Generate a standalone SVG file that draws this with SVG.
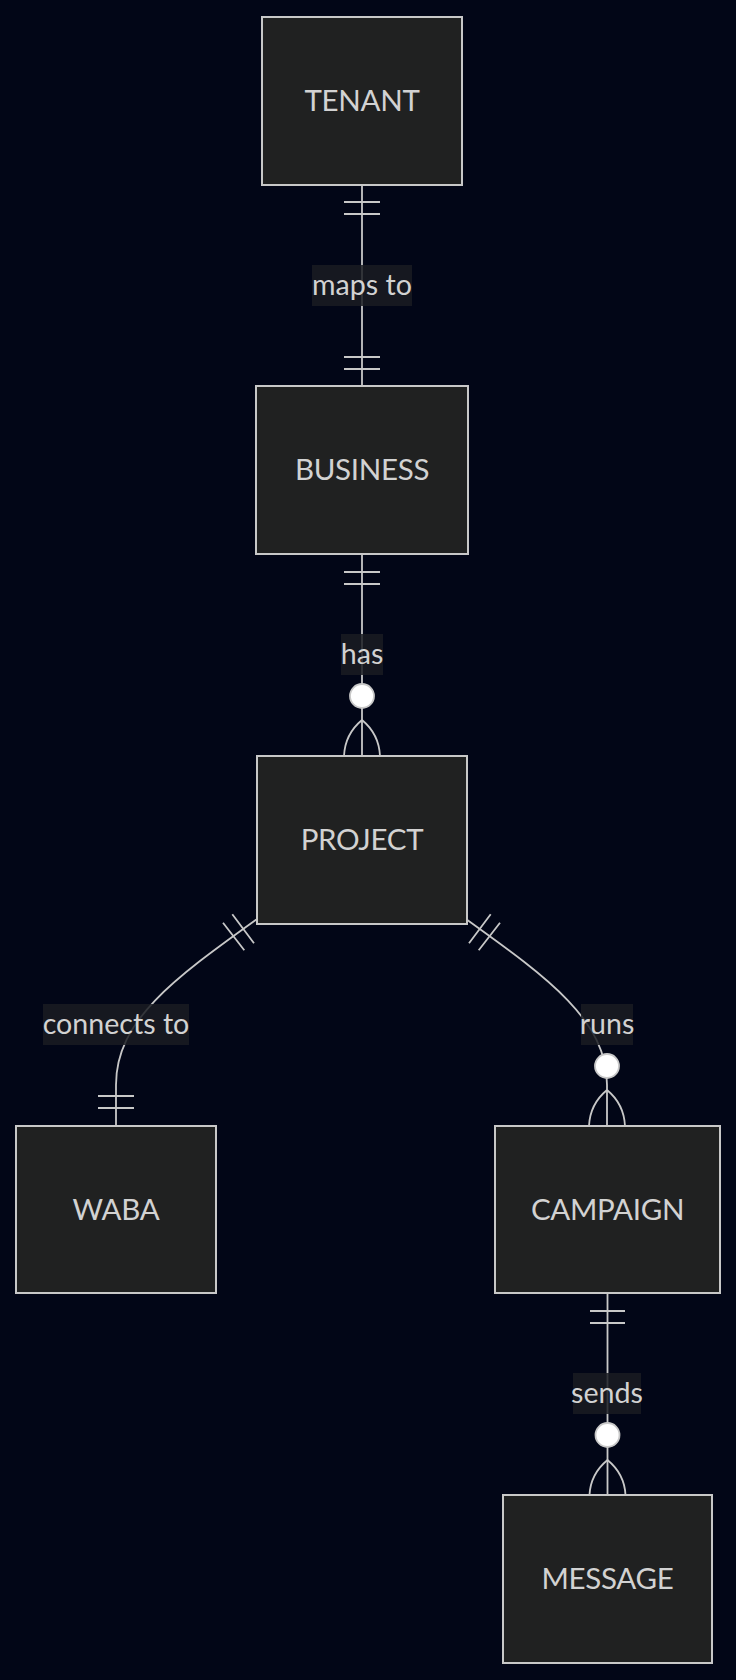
<svg xmlns="http://www.w3.org/2000/svg" width="736" height="1680" viewBox="0 0 736 1680">
<style>
.node rect{fill:#202121;stroke:#c8c8c8;stroke-width:2}
.node text{font-family:Lato,"Open Sans",sans-serif;font-size:29.5px;letter-spacing:-0.3px;fill:#d2d2d2;text-anchor:middle}
.edge{fill:none;stroke:#c8c8c8;stroke-width:1.8}
.bar{stroke:#c8c8c8;stroke-width:1.8}
.dot{fill:#ffffff;stroke:#c8c8c8;stroke-width:1.8}
.lbl rect{fill:#1a1c22;fill-opacity:0.85}
.lbl text{font-family:Lato,"Open Sans",sans-serif;font-size:28.6px;fill:#d2d2d2;text-anchor:middle}
</style>
<rect width="736" height="1680" fill="#020617"/>
<g id="connectors">
<g id="e-tenant-business">
<path class="edge" d="M362,185 L362,386"/>
<path class="bar" d="M344,202 L380,202 M344,214 L380,214 M344,357 L380,357 M344,369 L380,369"/>
</g>
<g id="e-business-project">
<path class="edge" d="M362,554 L362,756"/>
<path class="bar" d="M344,572 L380,572 M344,584 L380,584"/>
<path class="edge" d="M362,720 Q345,734 344,756 M362,720 Q379,734 380,756"/>
<circle class="dot" cx="362" cy="696" r="12"/>
</g>
<g id="e-project-waba">
<path class="edge" d="M257,919 C175,978 116,1020 116,1085 L116,1126"/>
<path class="bar" d="M232.3,914.3 L254,943.3 M223,922.7 L244.3,950.3 M98,1096 L134,1096 M98,1108 L134,1108"/>
</g>
<g id="e-project-campaign">
<path class="edge" d="M466,919 C548,978 607,1020 607,1085 L607,1126"/>
<path class="bar" d="M490.7,914.3 L469,943.3 M500,922.7 L478.7,950.3"/>
<path class="edge" d="M607,1090 Q590,1104 589,1126 M607,1090 Q624,1104 625,1126"/>
<circle class="dot" cx="607" cy="1066" r="12"/>
</g>
<g id="e-campaign-message">
<path class="edge" d="M607.5,1293 L607.5,1495"/>
<path class="bar" d="M590,1311 L625,1311 M590,1323 L625,1323"/>
<path class="edge" d="M607.5,1460 Q590.5,1474 589.5,1495 M607.5,1460 Q624.5,1474 625.5,1495"/>
<circle class="dot" cx="607.5" cy="1435" r="12"/>
</g>
<g class="lbl" id="l-maps"><rect x="312" y="265" width="100" height="41"/><text x="362" y="295">maps to</text></g>
<g class="lbl" id="l-has"><rect x="341" y="634" width="42" height="41"/><text x="362" y="664">has</text></g>
<g class="lbl" id="l-connects"><rect x="43" y="1004" width="146" height="41"/><text x="116" y="1034">connects to</text></g>
<g class="lbl" id="l-runs"><rect x="581" y="1004" width="52" height="41"/><text x="607" y="1034">runs</text></g>
<g class="lbl" id="l-sends"><rect x="573" y="1373" width="68" height="41"/><text x="607" y="1403">sends</text></g>
</g>
<g class="node" id="TENANT"><rect x="262" y="17" width="200" height="168"/><text x="362" y="111">TENANT</text></g>
<g class="node" id="BUSINESS"><rect x="256" y="386" width="212" height="168"/><text x="362" y="480">BUSINESS</text></g>
<g class="node" id="PROJECT"><rect x="257" y="756" width="210" height="168"/><text x="362" y="850">PROJECT</text></g>
<g class="node" id="WABA"><rect x="16" y="1126" width="200" height="167"/><text x="116" y="1220">WABA</text></g>
<g class="node" id="CAMPAIGN"><rect x="495" y="1126" width="225" height="167"/><text x="607.5" y="1220">CAMPAIGN</text></g>
<g class="node" id="MESSAGE"><rect x="503" y="1495" width="209" height="168"/><text x="607.5" y="1589">MESSAGE</text></g>
</svg>
